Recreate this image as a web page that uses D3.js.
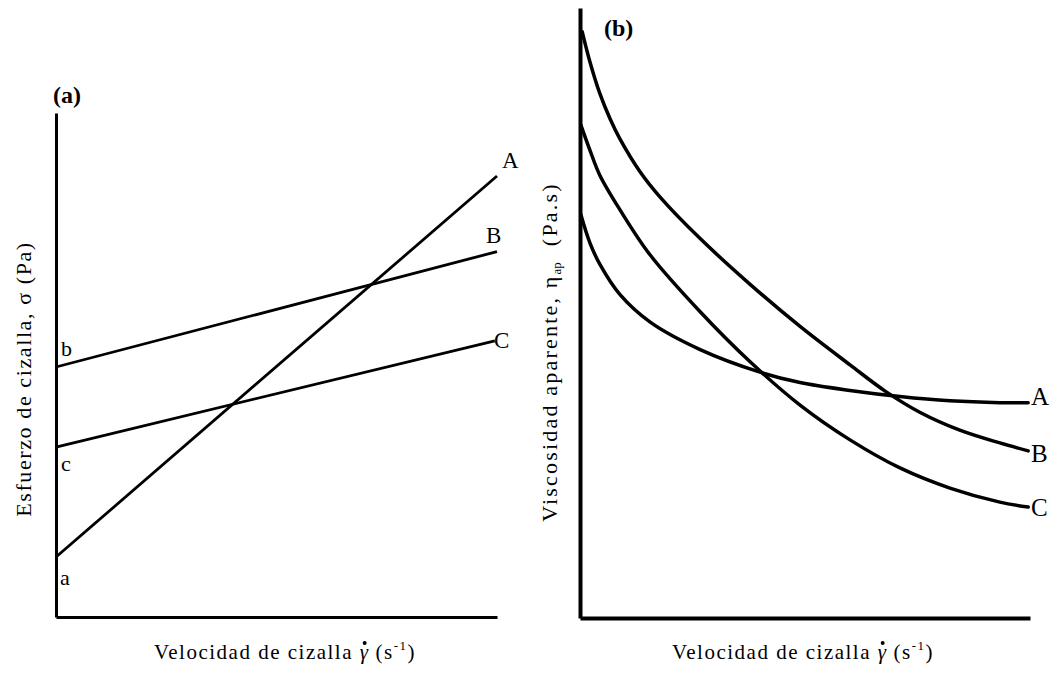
<!DOCTYPE html>
<html><head><meta charset="utf-8">
<script src="https://cdn.jsdelivr.net/npm/d3@7"></script>
<style>
html,body{margin:0;padding:0;background:#fff;}
text{font-family:"Liberation Serif","Times New Roman",Times,serif;fill:#000;}
</style></head>
<body><svg id="c" width="1054" height="677"></svg>
<script>
// Panel (a): flow curves (shear stress vs shear rate), linear
const seriesA = ["A","B","C"];
const linesA = {
  A: [[0,1.19],[10,8.75]],
  B: [[0,4.96],[10,7.25]],
  C: [[0,3.37],[9.95,5.48]]
};
const interceptLabels = ["a","b","c"];
// Panel (b): apparent viscosity vs shear rate
const seriesB = ["A","B","C"];
const curveB_A = [[0.02,6.61],[0.22,6.15],[0.44,5.80],[0.89,5.30],[1.56,4.85],[2.67,4.40],[4.0,4.03],[4.89,3.86],[6.0,3.73],[7.11,3.63],[8.22,3.56],[9.33,3.53],[9.96,3.53]];
const curveB_B = [[0.05,9.61],[0.22,9.12],[0.44,8.60],[0.67,8.18],[0.89,7.85],[1.33,7.32],[1.78,6.90],[2.67,6.22],[3.78,5.47],[4.89,4.78],[6.0,4.15],[6.78,3.72],[7.56,3.37],[8.44,3.08],[9.33,2.87],[9.96,2.74]];
const curveB_C = [[0.02,8.08],[0.22,7.67],[0.44,7.26],[0.89,6.69],[1.56,5.95],[2.67,5.02],[3.78,4.20],[4.89,3.49],[6.0,2.92],[7.11,2.46],[8.22,2.13],[9.33,1.90],[9.96,1.82]];

const svg = d3.select("#c");

// ---------- Panel (a)
const xa = d3.scaleLinear().domain([0,10]).range([56,497]);
const ya = d3.scaleLinear().domain([0,10]).range([617,113]);
const ga = svg.append("g");
ga.append("g").attr("transform",`translate(0,${ya(0)})`)
  .call(d3.axisBottom(xa).ticks(0).tickSizeOuter(0))
  .call(g=>g.select(".domain").attr("stroke","#000").attr("stroke-width",3));
ga.append("g").attr("transform",`translate(${xa(0)},0)`)
  .call(d3.axisLeft(ya).ticks(0).tickSizeOuter(0))
  .call(g=>g.select(".domain").attr("stroke","#000").attr("stroke-width",3));
const lineA = d3.line().x(d=>xa(d[0])).y(d=>ya(d[1]));
seriesA.forEach(k=>{
  ga.append("path").attr("d",lineA(linesA[k])).attr("fill","none")
    .attr("stroke","#000").attr("stroke-width",2.8);
});
const endLabA = {A:[502,168],B:[486,243],C:[494,348]};
seriesA.forEach(k=>{
  ga.append("text").attr("x",endLabA[k][0]).attr("y",endLabA[k][1])
    .attr("font-size",23).text(k);
});
const intLab = {a:[60,585],b:[61,356],c:[61,471]};
interceptLabels.forEach(k=>{
  ga.append("text").attr("x",intLab[k][0]).attr("y",intLab[k][1])
    .attr("font-size",22).text(k);
});
ga.append("text").attr("x",53).attr("y",103).attr("font-size",24)
  .attr("font-weight","bold").text("(a)");
ga.append("text").attr("transform","translate(31,379) rotate(-90)")
  .attr("text-anchor","middle").attr("font-size",22).attr("letter-spacing",1.6)
  .text("Esfuerzo de cizalla, σ (Pa)");

// ---------- Panel (b)
const xb = d3.scaleLinear().domain([0,10]).range([580,1030]);
const yb = d3.scaleLinear().domain([0,10]).range([618,8]);
const gb = svg.append("g");
gb.append("g").attr("transform",`translate(0,${yb(0)})`)
  .call(d3.axisBottom(xb).ticks(0).tickSizeOuter(0))
  .call(g=>g.select(".domain").attr("stroke","#000").attr("stroke-width",4));
gb.append("g").attr("transform",`translate(${xb(0)},0)`)
  .call(d3.axisLeft(yb).ticks(0).tickSizeOuter(0))
  .call(g=>g.select(".domain").attr("stroke","#000").attr("stroke-width",4));
const lineB = d3.line().x(d=>xb(d[0])).y(d=>yb(d[1])).curve(d3.curveCatmullRom.alpha(0.5));
[curveB_A,curveB_B,curveB_C].forEach(c=>{
  gb.append("path").attr("d",lineB(c)).attr("fill","none")
    .attr("stroke","#000").attr("stroke-width",3.5).attr("stroke-linecap","round");
});
const endLabB = {A:[1031,405],B:[1031,462],C:[1031,516]};
seriesB.forEach(k=>{
  gb.append("text").attr("x",endLabB[k][0]).attr("y",endLabB[k][1])
    .attr("font-size",25).text(k);
});
gb.append("text").attr("x",604).attr("y",36).attr("font-size",24)
  .attr("font-weight","bold").text("(b)");
const yl = gb.append("text").attr("transform","translate(557,352) rotate(-90)")
  .attr("text-anchor","middle").attr("font-size",22).attr("letter-spacing",2.2);
yl.append("tspan").text("Viscosidad aparente, η");
yl.append("tspan").attr("font-size",13).attr("dy",4).attr("letter-spacing",0).text("ap");
yl.append("tspan").attr("dy",-4).attr("dx",16).text("(Pa.s)");

// ---------- x-axis titles
function xTitle(cx){
  const t = svg.append("text").attr("x",cx).attr("y",659)
    .attr("text-anchor","middle").attr("font-size",21).attr("letter-spacing",1.5);
  t.append("tspan").text("Velocidad de cizalla ");
  t.append("tspan").attr("font-style","italic").text("γ");
  t.append("tspan").attr("dx",6).text("(s");
  t.append("tspan").attr("font-size",13).attr("dy",-9).text("-1");
  t.append("tspan").attr("dy",9).text(")");
  // dot above gamma (time derivative)
  const idx = "Velocidad de cizalla ".length;
  const ext = t.node().getExtentOfChar(idx);
  svg.append("circle").attr("cx",ext.x+ext.width/2).attr("cy",ext.y+3)
    .attr("r",2).attr("fill","#000");
}
xTitle(285);
xTitle(803);
</script></body></html>
